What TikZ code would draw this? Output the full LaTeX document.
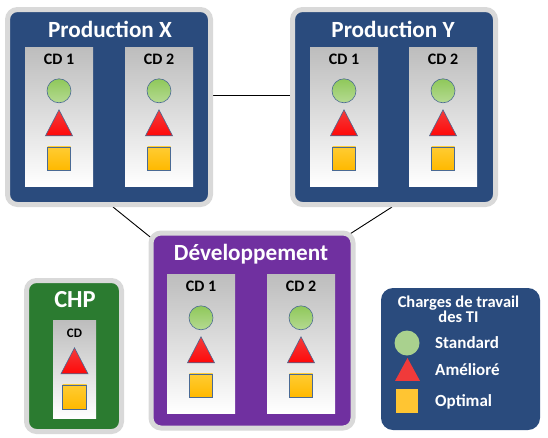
\documentclass[tikz,border=0pt]{standalone}
\usepackage{fontspec}
\setmainfont{Carlito}
\usetikzlibrary{positioning,shapes.geometric,backgrounds}
\definecolor{ProdBleu}{HTML}{2A4B7D}
\definecolor{DevViolet}{HTML}{7030A0}
\definecolor{ChpVert}{HTML}{2B7B30}
\definecolor{CadreGris}{HTML}{D9D9D9}
\definecolor{Contour}{HTML}{4A6A94}

\begin{document}
\begin{tikzpicture}[x=1pt,y=-1pt,
  cadre/.style={rectangle,rounded corners=10pt,draw=CadreGris,line width=5pt,inner sep=0pt},
  titre/.style={text=white,font=\bfseries\fontsize{23.2}{25}\selectfont,inner sep=0pt,anchor=base},
  panneau/.style={rectangle,inner sep=0pt,top color=black!26,bottom color=white,
    minimum width=68pt,minimum height=139pt},
  cd/.style={font=\bfseries\fontsize{16}{18}\selectfont,inner sep=0pt,anchor=base},
  rond/.style={circle,draw=Contour,line width=0.6pt,
    top color={rgb,255:red,143;green,200;blue,90},bottom color={rgb,255:red,181;green,218;blue,146},
    minimum size=24pt,inner sep=0pt},
  tri/.style={regular polygon,regular polygon sides=3,draw=Contour,line width=0.6pt,
    top color={rgb,255:red,242;green,60;blue,60},bottom color={rgb,255:red,255;green,8;blue,8},
    minimum size=31.2pt,yscale=1.11,inner sep=0pt,outer sep=0pt,anchor=north},
  carre/.style={rectangle,draw=Contour,line width=0.6pt,
    top color={rgb,255:red,255;green,204;blue,51},bottom color={rgb,255:red,255;green,185;blue,0},
    minimum size=23pt,inner sep=0pt},
  legende/.style={text=white,font=\bfseries\fontsize{17}{15}\selectfont,inner sep=0pt},
  lien/.style={draw=black,line width=0.9pt}
]
\node[cadre,fill=ProdBleu,minimum width=203pt,minimum height=195pt] (prodx) at (109,107) {};
\node[cadre,fill=ProdBleu,minimum width=203pt,minimum height=195pt] (prody) at (394,107) {};
\node[cadre,fill=DevViolet,minimum width=202pt,minimum height=195pt] (dev) at (252,330.5) {};
\node[cadre,fill=ChpVert,minimum width=95pt,minimum height=151pt] (chp) at (74,356) {};
\node[rectangle,rounded corners=12pt,fill=ProdBleu,minimum width=159pt,minimum height=142pt] (leg) at (460.5,359) {};

\node[titre] (prodx-t) at (110,37) {Production X};
\node[titre] (prody-t) at (393,37) {Production Y};
\node[titre] (dev-t) at (251,260) {Développement};
\node[titre,font=\bfseries\fontsize{24.5}{26}\selectfont] (chp-t) at (75,307) {CHP};

\foreach \p/\x/\y/\t in {x1/59/116.5/CD 1,x2/159/116.5/CD 2,y1/344/116.5/CD 1,y2/443/116.5/CD 2,d1/201/343.5/CD 1,d2/301/343.5/CD 2}{
  \node[panneau] (\p) at (\x,\y) {};
  \node[cd] (\p-cd) at ([yshift=-18pt]\p.north) {\t};
  \node[rond] (\p-std) at ([yshift=-44pt]\p.north) {};
  \node[tri] (\p-am) at ([yshift=-63pt]\p.north) {};
  \node[carre] (\p-opt) at ([yshift=-111.5pt]\p.north) {};
}

\node[panneau,minimum width=43pt,minimum height=98pt] (c1) at (74.5,369) {};
\node[cd,font=\bfseries\fontsize{13}{15}\selectfont] (c1-cd) at ([yshift=-18pt]c1.north) {CD};
\node[tri] (c1-am) at ([yshift=-28pt]c1.north) {};
\node[carre,minimum size=24pt] (c1-opt) at ([yshift=-77pt]c1.north) {};

\node[legende,font=\bfseries\fontsize{16.5}{15}\selectfont,align=center,anchor=north] (leg-t) at (458.5,296) {Charges de travail\\des TI};
\node[circle,fill={rgb,255:red,169;green,209;blue,142},minimum size=25pt,inner sep=0pt] (leg-std) at (407,343) {};
\node[regular polygon,regular polygon sides=3,fill={rgb,255:red,240;green,58;blue,58},
  minimum size=28.9pt,yscale=1.06,inner sep=0pt,outer sep=0pt,anchor=north] (leg-am) at (407.5,358) {};
\node[rectangle,fill={rgb,255:red,255;green,197;blue,50},minimum width=22pt,minimum height=24pt,inner sep=0pt] (leg-opt) at (407,401) {};
\node[legende,anchor=base west] (leg-std-t) at (435,348.5) {Standard};
\node[legende,anchor=base west] (leg-am-t) at (435,375.5) {Amélioré};
\node[legende,anchor=base west] (leg-opt-t) at (435,406.5) {Optimal};

\begin{scope}[on background layer]
\draw[lien] ([yshift=12pt]prodx.east) -- ([yshift=12pt]prody.west);
\draw[lien] ([xshift=4pt]prodx.south) -- ([xshift=6pt,yshift=-10pt]dev.north west);
\draw[lien] ([xshift=-2pt]prody.south) -- ([xshift=-8pt,yshift=-5pt]dev.north east);
\end{scope}
\useasboundingbox (0,0) rectangle (548,437);
\end{tikzpicture}
\end{document}
